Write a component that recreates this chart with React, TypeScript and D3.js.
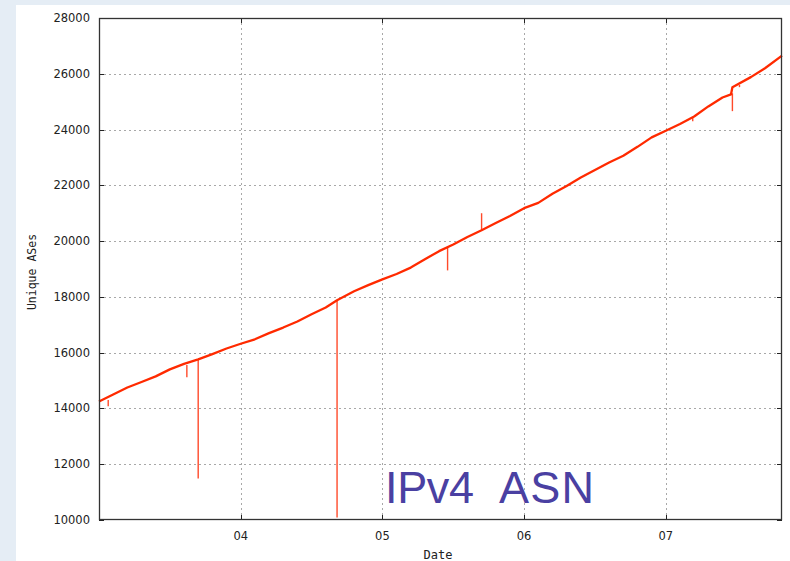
import * as d3 from "d3";

// Date as fractional year, value as unique ASes
const years = [
	2003.0, 2003.1, 2003.2, 2003.3, 2003.4, 2003.5, 2003.6, 2003.7, 2003.8, 2003.9,
	2004.0, 2004.1, 2004.2, 2004.3, 2004.4, 2004.5, 2004.6, 2004.68, 2004.8, 2004.9,
	2005.0, 2005.1, 2005.2, 2005.3, 2005.4, 2005.5, 2005.6, 2005.7, 2005.8, 2005.9,
	2006.0, 2006.1, 2006.2, 2006.3, 2006.4, 2006.5, 2006.6, 2006.7, 2006.8, 2006.9,
	2007.0, 2007.1, 2007.2, 2007.3, 2007.4, 2007.46, 2007.47, 2007.6, 2007.7, 2007.82,
];
const asCounts = [
	14250, 14500, 14750, 14950, 15150, 15400, 15600, 15760, 15950, 16150,
	16320, 16480, 16700, 16900, 17120, 17380, 17620, 17880, 18200, 18420,
	18630, 18820, 19050, 19350, 19640, 19880, 20150, 20390, 20650, 20900,
	21180, 21370, 21700, 21980, 22280, 22550, 22820, 23060, 23380, 23720,
	23960, 24200, 24470, 24830, 25150, 25260, 25520, 25880, 26200, 26650,
];

// Outliers: date, value on the curve, value of the spike
const spikeYears = [2003.065, 2003.62, 2003.70, 2004.68, 2005.46, 2005.70, 2007.19, 2007.47, 2007.52];
const spikeFrom = [14300, 15560, 15760, 17880, 19780, 20390, 24450, 25300, 25600];
const spikeTo = [14075, 15115, 11490, 10090, 18950, 21000, 24300, 24660, 25520];

const yTicks = [10000, 12000, 14000, 16000, 18000, 20000, 22000, 24000, 26000, 28000];
const xTicks = [2004, 2005, 2006, 2007];
const xTickLabels = ["04", "05", "06", "07"];

const W = 790;
const H = 561;
const margin = { left: 99, right: 782, top: 18, bottom: 520 };

export default function App() {
	const x = d3.scaleLinear().domain([2003, 2007.82]).range([margin.left, margin.right]);
	const y = d3.scaleLinear().domain([10000, 28000]).range([margin.bottom, margin.top]);

	const points = years.map((yr, i) => [yr, asCounts[i]] as [number, number]);
	const line = d3.line<[number, number]>()
		.x(d => x(d[0]))
		.y(d => y(d[1]));

	const tickFont = "'DejaVu Sans', Verdana, sans-serif";
	const monoFont = "'DejaVu Sans Mono', monospace";

	return (
		<div style={{ position: "absolute", left: 0, top: 0 }}>
			<svg width={W} height={H} style={{ display: "block" }}>
				{/* page background */}
				<rect x={0} y={0} width={W} height={H} fill="#e5edf5" />
				<rect x={16} y={5} width={W - 16} height={H - 5} fill="#ffffff" />

				{/* grid */}
				<g stroke="#a8a8a8" strokeWidth={1} strokeDasharray="2,3">
					{yTicks.filter(t => t > 10000 && t < 28000).map(t => (
						<line key={t} x1={margin.left} x2={margin.right} y1={Math.round(y(t)) + 0.5} y2={Math.round(y(t)) + 0.5} />
					))}
					{xTicks.map(t => (
						<line key={t} x1={Math.round(x(t)) + 0.5} x2={Math.round(x(t)) + 0.5} y1={margin.top} y2={margin.bottom} />
					))}
				</g>

				{/* ticks, inward on all sides */}
				<g stroke="#222" strokeWidth={1}>
					{yTicks.map(t => {
						const py = Math.round(y(t)) + 0.5;
						return (
							<g key={t}>
								<line x1={margin.left} x2={margin.left + 5} y1={py} y2={py} />
								<line x1={margin.right - 5} x2={margin.right} y1={py} y2={py} />
							</g>
						);
					})}
					{xTicks.map(t => {
						const px = Math.round(x(t)) + 0.5;
						return (
							<g key={t}>
								<line x1={px} x2={px} y1={margin.bottom} y2={margin.bottom - 5} />
								<line x1={px} x2={px} y1={margin.top} y2={margin.top + 5} />
							</g>
						);
					})}
				</g>

				{/* spikes */}
				<g stroke="#ff4a2a" strokeWidth={1.4}>
					{spikeYears.map((yr, i) => (
						<line key={yr} x1={x(yr)} x2={x(yr)} y1={y(spikeFrom[i])} y2={y(spikeTo[i])} />
					))}
				</g>

				{/* main series */}
				<path d={line(points) ?? ""} fill="none" stroke="#ff2a00" strokeWidth={2.3} strokeLinejoin="round" />

				{/* frame */}
				<rect
					x={margin.left + 0.5}
					y={margin.top + 0.5}
					width={margin.right - margin.left - 1}
					height={margin.bottom - margin.top - 1}
					fill="none"
					stroke="#333"
					strokeWidth={1.3}
				/>

				{/* y tick labels */}
				<g fontFamily={tickFont} fontSize={11.5} fill="#222" textAnchor="end">
					{yTicks.map(t => (
						<text key={t} x={90} y={y(t) + 4}>{t}</text>
					))}
				</g>

				{/* x tick labels */}
				<g fontFamily={tickFont} fontSize={11.5} fill="#222" textAnchor="middle">
					{xTicks.map((t, i) => (
						<text key={t} x={x(t)} y={540}>{xTickLabels[i]}</text>
					))}
				</g>

				{/* axis titles */}
				<text
					transform="translate(36,272) rotate(-90)"
					textAnchor="middle"
					fontFamily={monoFont}
					fontSize={11.5}
					fill="#222"
				>
					Unique ASes
				</text>
				<text x={438} y={559} textAnchor="middle" fontFamily={monoFont} fontSize={12} fill="#222">
					Date
				</text>

				{/* label */}
				<g fontFamily="'Liberation Sans', Arial, sans-serif" fontSize={45} fill="#4a40a2">
					<text x={385} y={503} textLength={89} lengthAdjust="spacing">IPv4</text>
					<text x={499} y={503} textLength={95} lengthAdjust="spacing">ASN</text>
				</g>
			</svg>
		</div>
	);
}
